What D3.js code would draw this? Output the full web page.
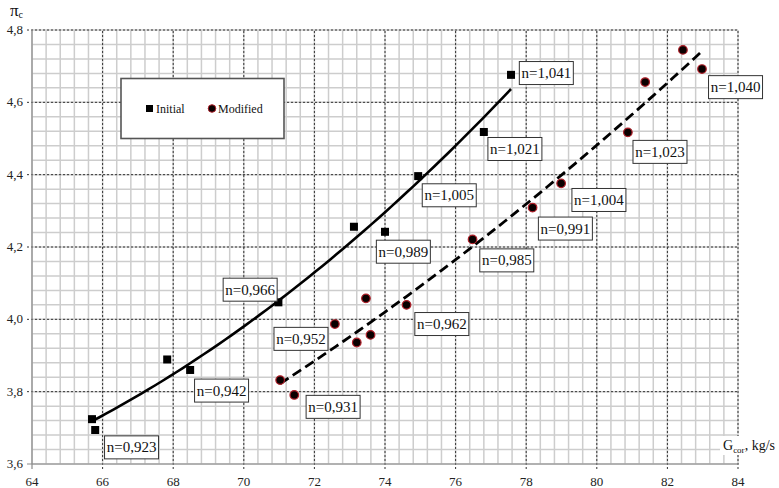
<!DOCTYPE html>
<html>
<head>
<meta charset="utf-8">
<script src="https://cdn.jsdelivr.net/npm/d3@7"></script>
<style>
  html, body { margin: 0; padding: 0; background: #fff; }
  svg { display: block; }
</style>
</head>
<body>
<svg id="chart" width="779" height="488" font-family="'Liberation Serif', 'Times New Roman', serif"></svg>
<script>
// Corrected mass flow G_cor (kg/s) and pressure ratio πc
const initialG  = [65.70, 65.79, 67.83, 68.48, 70.98, 73.12, 74.00, 74.94, 76.80, 77.57];
const initialPi = [3.724, 3.694, 3.889, 3.860, 4.047, 4.256, 4.242, 4.396, 4.518, 4.676];

const modifiedG  = [71.03, 71.43, 72.58, 73.20, 73.46, 73.59, 74.61, 76.48, 78.18, 78.99, 80.88, 81.37, 82.44, 82.98];
const modifiedPi = [3.832, 3.791, 3.987, 3.936, 4.058, 3.957, 4.040, 4.221, 4.309, 4.376, 4.517, 4.656, 4.745, 4.692];

// Relative rotational speed annotations, anchored at (G, πc)
const speedText = ["n=0,923", "n=0,942", "n=0,966", "n=0,989", "n=1,005", "n=1,021", "n=1,041",
                   "n=0,931", "n=0,952", "n=0,962", "n=0,985", "n=0,991", "n=1,004", "n=1,023", "n=1,040"];
const speedG  = [66.82, 69.37, 70.18, 74.52, 75.82, 77.68, 78.57,
                 72.53, 71.62, 75.61, 77.45, 79.11, 80.06, 81.79, 83.93];
const speedPi = [3.646, 3.803, 4.082, 4.187, 4.343, 4.471, 4.681,
                 3.758, 3.946, 3.987, 4.163, 4.251, 4.330, 4.463, 4.642];

const xTicks = [64, 66, 68, 70, 72, 74, 76, 78, 80, 82, 84];
const yTicks = [3.6, 3.8, 4.0, 4.2, 4.4, 4.6, 4.8];
const seriesNames = ["Initial", "Modified"];

const fmtX = v => String(v);
const fmtY = v => v.toFixed(1).replace(".", ",");

const svg = d3.select("#chart");
const x = d3.scaleLinear().domain([64, 84]).range([32, 738]);
const y = d3.scaleLinear().domain([3.6, 4.8]).range([464, 30]);

// minor grid
const minorX = d3.range(64, 84.001, 0.4);
const minorY = d3.range(3.6, 4.8001, 0.04);
const grid = svg.append("g");
grid.selectAll("line.vx").data(minorX).join("line")
  .attr("x1", d => x(d)).attr("x2", d => x(d)).attr("y1", y(3.6)).attr("y2", y(4.8))
  .attr("stroke", "#cdcdcd").attr("stroke-width", 1.5);
grid.selectAll("line.hy").data(minorY).join("line")
  .attr("x1", x(64)).attr("x2", x(84)).attr("y1", d => y(d)).attr("y2", d => y(d))
  .attr("stroke", "#cdcdcd").attr("stroke-width", 1.5);

// major grid (dashed), extended slightly as tick marks
grid.selectAll("line.mx").data(xTicks.slice(1)).join("line")
  .attr("x1", d => x(d)).attr("x2", d => x(d)).attr("y1", y(3.6) + 5).attr("y2", y(4.8))
  .attr("stroke", "#333").attr("stroke-width", 1).attr("stroke-dasharray", "2,2");
grid.selectAll("line.my").data(yTicks.slice(1)).join("line")
  .attr("x1", x(64) - 5).attr("x2", x(84)).attr("y1", d => y(d)).attr("y2", d => y(d))
  .attr("stroke", "#333").attr("stroke-width", 1).attr("stroke-dasharray", "2,2");

// axes frame
svg.append("line").attr("x1", x(64)).attr("x2", x(64)).attr("y1", y(4.8)).attr("y2", y(3.6) + 5)
  .attr("stroke", "#8a8a8a").attr("stroke-width", 1.2);
svg.append("line").attr("x1", x(64) - 5).attr("x2", x(84)).attr("y1", y(3.6)).attr("y2", y(3.6))
  .attr("stroke", "#8a8a8a").attr("stroke-width", 1.2);

// tick labels
svg.append("g").selectAll("text").data(xTicks).join("text")
  .attr("x", d => x(d)).attr("y", 486).attr("text-anchor", "middle")
  .attr("font-size", 13).attr("fill", "#222").text(fmtX);
svg.append("g").selectAll("text").data(yTicks).join("text")
  .attr("x", 23).attr("y", d => y(d) + 4).attr("text-anchor", "end")
  .attr("font-size", 13).attr("fill", "#222").text(fmtY);

// axis titles
const yt = svg.append("text").attr("x", 10).attr("y", 16).attr("font-size", 17).attr("fill", "#111");
yt.append("tspan").text("π");
yt.append("tspan").attr("font-size", 10).attr("dy", 2).text("c");

svg.append("rect").attr("x", 720).attr("y", 436).attr("width", 59).attr("height", 19).attr("fill", "#fff");
const xt = svg.append("text").attr("x", 723).attr("y", 450).attr("font-size", 14).attr("fill", "#111");
xt.append("tspan").text("G");
xt.append("tspan").attr("font-size", 9).attr("dy", 3).text("cor");
xt.append("tspan").attr("dy", -3).text(", kg/s");

// quadratic least-squares trend
function quadFit(xs, ys) {
  const S = [0, 0, 0, 0, 0], T = [0, 0, 0];
  xs.forEach((xv, i) => {
    let p = 1;
    for (let k = 0; k < 5; k++) { S[k] += p; if (k < 3) T[k] += p * ys[i]; p *= xv; }
  });
  const A = [[S[0], S[1], S[2], T[0]], [S[1], S[2], S[3], T[1]], [S[2], S[3], S[4], T[2]]];
  for (let c = 0; c < 3; c++) {
    for (let r = c + 1; r < 3; r++) {
      const f = A[r][c] / A[c][c];
      for (let k = c; k < 4; k++) A[r][k] -= f * A[c][k];
    }
  }
  const b = [0, 0, 0];
  for (let r = 2; r >= 0; r--) {
    let s = A[r][3];
    for (let k = r + 1; k < 3; k++) s -= A[r][k] * b[k];
    b[r] = s / A[r][r];
  }
  return xv => b[0] + b[1] * xv + b[2] * xv * xv;
}

function trendPath(xs, ys) {
  const f = quadFit(xs, ys);
  const lo = d3.min(xs), hi = d3.max(xs);
  const pts = d3.range(0, 61).map(i => lo + (hi - lo) * i / 60);
  return d3.line().x(d => x(d)).y(d => y(f(d)))(pts);
}

svg.append("path").attr("d", trendPath(initialG, initialPi))
  .attr("fill", "none").attr("stroke", "#000").attr("stroke-width", 2.6);
svg.append("path").attr("d", trendPath(modifiedG, modifiedPi))
  .attr("fill", "none").attr("stroke", "#000").attr("stroke-width", 2.8)
  .attr("stroke-dasharray", "10,5");

// markers
svg.append("g").selectAll("rect").data(initialG).join("rect")
  .attr("x", d => x(d) - 4).attr("y", (d, i) => y(initialPi[i]) - 4)
  .attr("width", 8).attr("height", 8).attr("fill", "#000");
svg.append("g").selectAll("circle").data(modifiedG).join("circle")
  .attr("cx", d => x(d)).attr("cy", (d, i) => y(modifiedPi[i])).attr("r", 4.3)
  .attr("fill", "#0a0000").attr("stroke", "#b0202a").attr("stroke-width", 1.2);

// speed labels
const lab = svg.append("g").selectAll("g").data(speedText).join("g")
  .attr("transform", (d, i) => `translate(${x(speedG[i])},${y(speedPi[i])})`);
lab.append("rect").attr("x", -27).attr("y", -11.5).attr("width", 54).attr("height", 23)
  .attr("fill", "#fff").attr("stroke", "#333").attr("stroke-width", 1);
lab.append("text").attr("text-anchor", "middle").attr("y", 5).attr("font-size", 15)
  .attr("fill", "#111").text(d => d);

// legend
const lg = svg.append("g");
lg.append("rect").attr("x", 121).attr("y", 78.5).attr("width", 163).attr("height", 60)
  .attr("fill", "#fff").attr("stroke", "#555").attr("stroke-width", 1.6);
lg.append("rect").attr("x", 146).attr("y", 105).attr("width", 7).attr("height", 7).attr("fill", "#000");
lg.append("text").attr("x", 156).attr("y", 113).attr("font-size", 12).attr("fill", "#111").text(seriesNames[0]);
lg.append("circle").attr("cx", 212).attr("cy", 108.5).attr("r", 3.8)
  .attr("fill", "#0a0000").attr("stroke", "#b0202a").attr("stroke-width", 1);
lg.append("text").attr("x", 218).attr("y", 113).attr("font-size", 12).attr("fill", "#111").text(seriesNames[1]);
</script>
</body>
</html>
